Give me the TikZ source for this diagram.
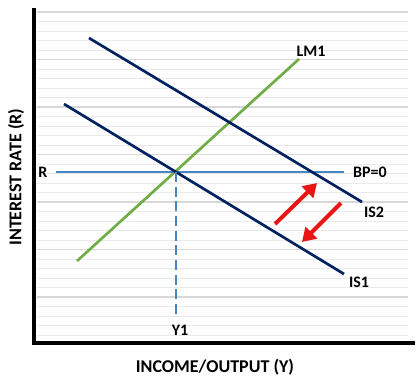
\documentclass[tikz,border=0pt]{standalone}
\usepackage{fontspec}
\setmainfont{Carlito}
\usepackage{xcolor}
\usetikzlibrary{positioning,arrows.meta,calc}
\definecolor{isnavy}{RGB}{0,32,96}
\definecolor{lmgreen}{RGB}{112,173,71}
\definecolor{bpblue}{RGB}{70,135,195}
\definecolor{shiftred}{RGB}{235,20,20}
\definecolor{gridminor}{RGB}{234,234,234}
\definecolor{gridmajor}{RGB}{215,215,215}
\tikzset{
  axisline/.style={line width=2.3pt, black},
  curve/.style={line width=2pt},
  lbl/.style={font=\bfseries\fontsize{12}{14}\selectfont, inner sep=1pt},
  axtitle/.style={font=\bfseries\fontsize{13.5}{15}\selectfont, inner sep=1pt},
  shiftarrow/.style={-{Triangle[length=10pt, width=12pt]}, line width=3pt, shiftred}
}

\begin{document}
\begin{tikzpicture}[x=0.75pt, y=-0.75pt]
    \useasboundingbox (0,0) rectangle (420,383);
    % grid
    \foreach \i in {0,...,34}
      \draw[gridminor, line width=0.6pt] (37,12+9.5*\i) -- (408,12+9.5*\i);
    \foreach \i in {0,...,6}
      \draw[gridmajor, line width=0.8pt] (37,12+47.5*\i) -- (408,12+47.5*\i);
    % axes
    \coordinate (top) at (34,8);
    \coordinate (origin) at (34,343);
    \coordinate (right) at (415,343);
    \draw[axisline] (top) -- (origin) -- (right);
    % curves
    \coordinate (is2a) at (89,38);
    \coordinate (is2b) at (362,202);
    \coordinate (is1a) at (64,104);
    \coordinate (is1b) at (344,274);
    \coordinate (lma) at (77,261);
    \coordinate (lmb) at (299,59);
    \coordinate (bpa) at (56,172);
    \coordinate (bpb) at (344,172);
    \coordinate (eq) at (176,172);
    \coordinate (ybase) at (176,314);
    \draw[curve, lmgreen] (lma) -- (lmb);
    \draw[curve, bpblue, line width=1.5pt] (bpa) -- (bpb);
    \draw[curve, isnavy] (is2a) -- (is2b);
    \draw[curve, isnavy] (is1a) -- (is1b);
    \draw[bpblue, line width=1.5pt, dash pattern=on 7.5pt off 3.5pt] (eq) -- (ybase);
    % shifts
    \coordinate (upa) at (275,224);
    \coordinate (upb) at (317,183);
    \coordinate (dna) at (341,203);
    \coordinate (dnb) at (302,242);
    \draw[shiftarrow] (upa) -- (upb);
    \draw[shiftarrow] (dna) -- (dnb);
    % labels
    \node[lbl] (rlab) at (43,172) {R};
    \node[lbl] (bplab) at (370,172) {BP=0};
    \node[lbl] (is2lab) at (374,212) {IS2};
    \node[lbl] (is1lab) at (359,282) {IS1};
    \node[lbl] (lmlab) at (311,51) {LM1};
    \node[lbl] (ylab) at (180,330) {Y1};
    \node[axtitle, rotate=90] (ytitle) at (16,177) {INTEREST RATE (R)};
    \node[axtitle] (xtitle) at (215,367) {INCOME/OUTPUT (Y)};
  \end{tikzpicture}
\end{document}
